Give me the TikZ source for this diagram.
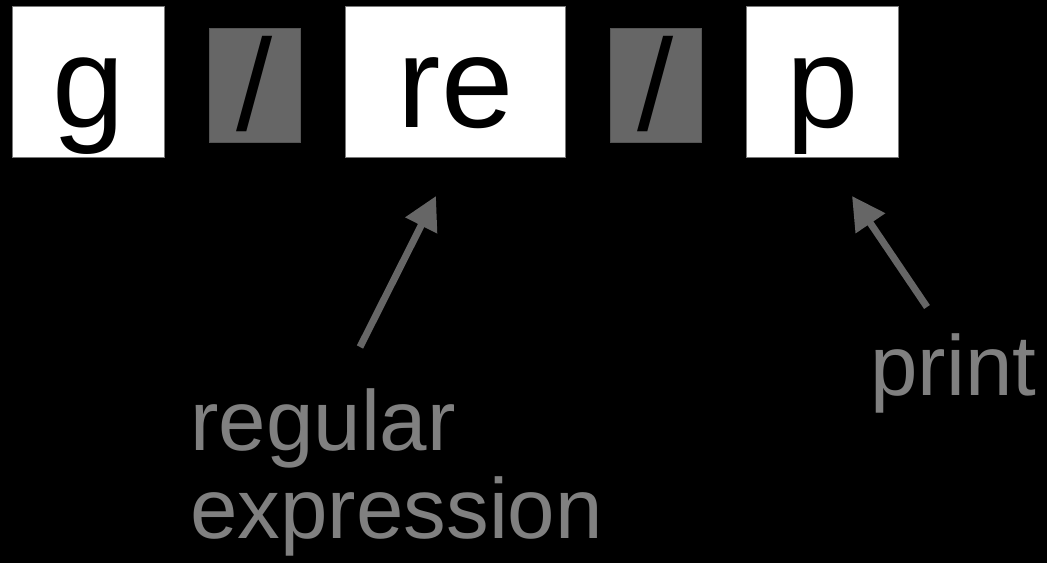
\documentclass[tikz,border=0pt]{standalone}
\usepackage{fontspec}
\setmainfont{Liberation Sans}
\usetikzlibrary{arrows.meta}
\definecolor{slashgray}{HTML}{666666}
\definecolor{arrowgray}{HTML}{666666}
\definecolor{labelgray}{HTML}{808080}
\definecolor{edgegray}{HTML}{7A7A7A}
\begin{document}
\begin{tikzpicture}[x=0.75pt,y=-0.75pt,
  letterbox/.style={draw=edgegray,line width=0.9pt,fill=white,inner sep=0pt,
    text=black,font=\fontsize{97.5pt}{110pt}\selectfont,
    minimum width=114pt,text height=90.75pt,text depth=22.5pt},
  wordbox/.style={letterbox,minimum width=165pt},
  slashbox/.style={draw=edgegray!70!black,line width=0.6pt,fill=slashgray,inner sep=0pt,
    text=black,font=\fontsize{97.5pt}{110pt}\selectfont,
    minimum width=68.25pt,text height=76.5pt,text depth=9pt},
  label/.style={inner sep=0pt,anchor=base west,text=labelgray,
    font=\fontsize{64pt}{66pt}\selectfont},
  pointer/.style={draw=arrowgray,line width=5.25pt,
    -{Triangle[length=24.75pt,width=25.5pt]}}
]
\fill[black] (0,0) rectangle (1047,563);
\useasboundingbox (0,0) rectangle (1047,563);

\node[letterbox,anchor=north west] (g) at (12,6) {g};
\node[slashbox,anchor=north west] (s1) at (209,28) {/};
\node[wordbox,anchor=north west] (re) at (345,6) {re};
\node[slashbox,anchor=north west] (s2) at (610,28) {/};
\node[letterbox,anchor=north west] (p) at (746,6) {p};

\node[label] (lreg) at (190,450) {regular};
\node[label] (lexp) at (190,538) {expression};
\node[label] (lprint) at (870,395) {print};

\coordinate (a1s) at (360,347);
\coordinate (a1e) at (436,196);
\coordinate (a2s) at (927,307);
\coordinate (a2e) at (852,196);
\draw[pointer] (a1s) -- (a1e);
\draw[pointer] (a2s) -- (a2e);
\end{tikzpicture}
\end{document}
